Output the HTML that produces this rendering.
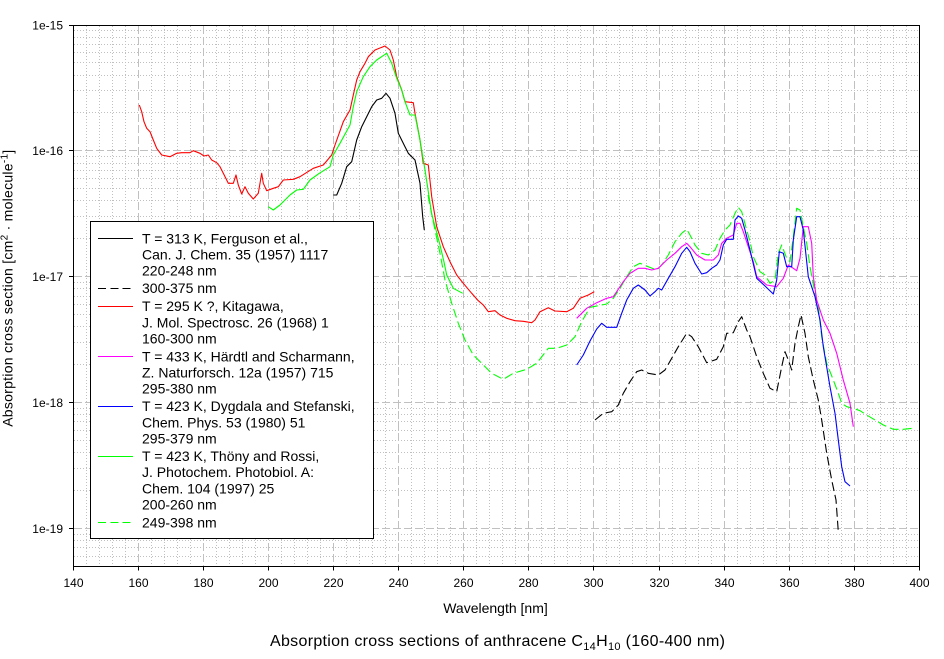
<!DOCTYPE html>
<html><head><meta charset="utf-8"><style>
html,body{margin:0;padding:0;background:#fff;}
svg{display:block;}
text{font-family:"Liberation Sans",Arial,sans-serif;fill:#000;}
</style></head><body>
<svg width="944" height="659" viewBox="0 0 944 659" xmlns="http://www.w3.org/2000/svg">
<rect x="0" y="0" width="944" height="659" fill="#fff"/>
<!-- minor grid -->
<g stroke="#c0c0c0" stroke-width="1" fill="none" shape-rendering="crispEdges" stroke-dasharray="1,2">
<path d="M86.5 26V566M99.5 26V566M112.5 26V566M125.5 26V566M151.5 26V566M164.5 26V566M177.5 26V566M190.5 26V566M216.5 26V566M229.5 26V566M242.5 26V566M255.5 26V566M281.5 26V566M294.5 26V566M307.5 26V566M320.5 26V566M346.5 26V566M359.5 26V566M372.5 26V566M385.5 26V566M411.5 26V566M424.5 26V566M437.5 26V566M450.5 26V566M476.5 26V566M489.5 26V566M502.5 26V566M515.5 26V566M541.5 26V566M554.5 26V566M567.5 26V566M580.5 26V566M606.5 26V566M619.5 26V566M632.5 26V566M646.5 26V566M672.5 26V566M685.5 26V566M698.5 26V566M711.5 26V566M737.5 26V566M750.5 26V566M763.5 26V566M776.5 26V566M802.5 26V566M815.5 26V566M828.5 26V566M841.5 26V566M867.5 26V566M880.5 26V566M893.5 26V566M906.5 26V566"/>
<path d="M74 30.5H919M74 37.5H919M74 44.5H919M74 52.5H919M74 62.5H919M74 75.5H919M74 90.5H919M74 112.5H919M74 156.5H919M74 163.5H919M74 170.5H919M74 178.5H919M74 188.5H919M74 200.5H919M74 216.5H919M74 238.5H919M74 282.5H919M74 288.5H919M74 296.5H919M74 304.5H919M74 314.5H919M74 326.5H919M74 342.5H919M74 364.5H919M74 408.5H919M74 414.5H919M74 421.5H919M74 430.5H919M74 440.5H919M74 452.5H919M74 468.5H919M74 490.5H919M74 534.5H919M74 540.5H919M74 547.5H919M74 556.5H919"/>
</g>
<!-- major grid -->
<g stroke="#c0c0c0" stroke-width="1" fill="none" shape-rendering="crispEdges" stroke-dasharray="8,3">
<path d="M138.5 26V566M203.5 26V566M268.5 26V566M333.5 26V566M398.5 26V566M463.5 26V566M528.5 26V566M593.5 26V566M659.5 26V566M724.5 26V566M789.5 26V566M854.5 26V566"/>
<path d="M74 150.5H919M74 276.5H919M74 402.5H919M74 528.5H919"/>
</g>

<!-- legend -->
<rect x="90.5" y="221.5" width="283" height="317" fill="#fff" stroke="#000" stroke-width="1" shape-rendering="crispEdges"/>
<g stroke-width="1" shape-rendering="crispEdges">
<line x1="98" y1="238.5" x2="133" y2="238.5" stroke="#000"/>
<line x1="98" y1="288.5" x2="133" y2="288.5" stroke="#000" stroke-dasharray="8,4.3"/>
<line x1="98" y1="306.5" x2="133" y2="306.5" stroke="#ff0000"/>
<line x1="98" y1="356.5" x2="133" y2="356.5" stroke="#ff00ff"/>
<line x1="98" y1="406.5" x2="133" y2="406.5" stroke="#0000ff"/>
<line x1="98" y1="456.5" x2="133" y2="456.5" stroke="#00ff00"/>
<line x1="98" y1="522.5" x2="133" y2="522.5" stroke="#00ff00" stroke-dasharray="8,4.3"/>
</g>
<g font-size="14">
<text x="142" y="243.5">T = 313 K, Ferguson et al.,</text>
<text x="142" y="259.5">Can. J. Chem. 35 (1957) 1117</text>
<text x="142" y="275.5">220-248 nm</text>
<text x="142" y="293">300-375 nm</text>
<text x="142" y="311">T = 295 K ?, Kitagawa,</text>
<text x="142" y="327.3">J. Mol. Spectrosc. 26 (1968) 1</text>
<text x="142" y="343.3">160-300 nm</text>
<text x="142" y="361.3">T = 433 K, Härdtl and Scharmann,</text>
<text x="142" y="377.3">Z. Naturforsch. 12a (1957) 715</text>
<text x="142" y="393.3">295-380 nm</text>
<text x="142" y="411">T = 423 K, Dygdala and Stefanski,</text>
<text x="142" y="427.3">Chem. Phys. 53 (1980) 51</text>
<text x="142" y="443.3">295-379 nm</text>
<text x="142" y="461">T = 423 K, Thöny and Rossi,</text>
<text x="142" y="477">J. Photochem. Photobiol. A:</text>
<text x="142" y="493.3">Chem. 104 (1997) 25</text>
<text x="142" y="509.3">200-260 nm</text>
<text x="142" y="527.3">249-398 nm</text>
</g>

<!-- data -->
<g fill="none" stroke-width="1.1" stroke-linejoin="round">
<polyline stroke="#000" points="333.3,195 336.7,195 341.7,183.3 346.7,166.7 351.7,161.7 356.7,140 361.7,126.7 366.7,116.7 371.7,106.7 376.7,100 381.7,98.3 386,93.3 390,98.3 395,113.3 398.3,133.3 405,146.7 408.3,153.3 415,160 420,183.3 422.7,216.7 424.3,230"/>
<polyline stroke="#ff0000" points="139.3,105 141.7,111.7 144,121.7 146.7,128.3 150,131.7 153.3,140 156.7,148.3 161.7,155 170,156.7 176.7,153.3 181.7,152.7 190,152.7 193.3,150.7 200,153.3 204,156 208.3,155 211.7,160 216.7,162.7 220,166.7 223.3,173.3 228.3,183.3 233.3,183.3 236,175 238.3,185 241.7,194 245,186.7 248.3,193.3 253.3,199 258.3,193.3 261.7,173.3 263.3,183.3 266.7,190.7 273.3,188.3 278.3,186.7 283.3,180 293.3,179.3 300,176.7 313.3,168.3 323.3,165 331.7,155 335,145 343.3,121.7 350,110 353.3,95 356.7,80 360,71.7 365,63.3 368.3,56.7 375,50 385,46 390,50 393.3,60 396.7,76.7 401.7,90 405,101.7 413.3,102.7 415,113.3 420,140 423.3,163.3 428.3,165 431.7,196.7 436.7,226.7 443.3,246.7 450,261.7 456.7,275 463.3,283.3 471.7,293.3 478.3,300.7 483.3,305 488.3,311.7 495,310.7 500,315 506.7,318.3 515,320.7 523.3,321.3 531.7,322.7 535,320 540,311.7 548.3,307.7 555,311 566.7,311.7 573.3,308.3 580,298.3 588.3,295 594.3,291.7"/>
<polyline stroke="#00ff00" points="268.3,206.7 273.3,210 280,205 290,195 296.7,190 303.3,189.3 310,180 319.3,173.3 330,166.7 333.3,155 340,143.3 350,125 353.3,106.7 356.7,91.7 363.3,76.7 370,66.7 376.7,60 386.7,53.3 391.7,63.3 396.7,78.3 401.7,90 405,101.7 410,115 415,115 420,140 425,170 431.7,214 436,230 440,245 444,262 446.7,275 453.3,288.3 462.7,293.3"/>
<polyline stroke="#00ff00" stroke-dasharray="9,4" points="428,195 431.7,214 435,230 440,253.3 445,280 451.7,303.3 458.3,323.3 465,340 473.3,355 481.7,363.3 491.7,373.3 503.3,379.3 513.3,373.3 526.7,369.3 536.7,363.3 548.3,348.3 556.7,348.3 566.7,345 575,336.7 581.7,321.7 590,307.3 606.7,304 613.3,298.3 620,288.3 626.7,276.7 633.3,266.7 640,263.3 648.3,266.7 656.7,270 661.7,265 668.3,255 675,241.7 681.7,233.3 686.7,229.3 690,235 695,245 701.7,253.3 708.3,255 715,250 720,238.3 725,230 730,225 735,213.3 738.3,207.3 741.7,211.7 746.7,230 750,241.7 753.3,256.7 760,271.7 765,275 770,283.3 775,280 778.3,253.3 781.7,245 786.7,258.3 790,261.7 793.3,236.7 796.7,208.3 800,210 803.3,226.7 806.7,243.3 810,266.7 815,293.3 818.3,306.7 821.7,336.7 826.7,363.3 833.3,380 838.3,393.3 841.7,403.3 846.7,406.7 853.3,408.3 860,410.7 866.7,415 875,420 883.3,425 893.3,429.3 903.3,429.3 913.3,428.3"/>
<polyline stroke="#ff00ff" points="576.7,318.3 586.7,308.3 596.7,302.7 606.7,298.3 613.3,296.7 616.7,291.7 623.3,281.7 630,273.3 638.3,268.3 645,268.3 651.7,270 658.3,268.3 666.7,260 675,253.3 681.7,246.7 686.7,243.3 690,246.7 696.7,255 705,260 713.3,260 718.3,255 721.7,243.3 726.7,238.3 733.3,235 736.7,223.3 740,223.3 743.3,231.7 748.3,246.7 753.3,261.7 756.7,276.7 766.7,285 776.7,286.7 783.3,278.3 788.3,265 793.3,268.3 796.7,270.7 800,258.3 803.3,226.7 808.3,226.7 811.7,243.3 813.3,276.7 816.7,300 823.3,320 830,333.3 836.7,353.3 843.3,380 850,403.3 853.3,426.7"/>
<polyline stroke="#0000ff" points="576.7,365 583.3,355 590,341 596.7,329 601.7,323.3 606.7,327.3 616.7,327.3 621.7,313.3 626.7,300 633.3,288.3 638.3,285 645,290 650,296 655,291.7 658.3,288.3 661.7,290 668.3,278.3 675,266.7 681.7,253.3 686.7,247.3 690,251.7 695,263.3 701.7,274 706.7,272.7 711.7,268.3 716.7,265 720,260 723.3,245 726.7,239.3 733.3,239.3 735,220 738.3,216 741.7,218.3 745,230 750,250 756.7,278.3 765,286 773.3,294 776.7,280 779.3,251.7 783.3,253.3 786.7,266.7 791.7,266.7 793.3,240 796.7,216.7 800,216.7 803.3,230 808.3,276.7 815,296.7 820,320 823.3,346.7 830,386.7 835,413.3 838.3,440 841.7,466.7 845,481.7 850,486"/>
<polyline stroke="#000" stroke-dasharray="9,4" points="595,420 603.3,413.3 611.7,411.7 618.3,405 623.3,393.3 630,381.7 636.7,371.7 641.7,370 648.3,373.3 658.3,375 665,370 671.7,358.3 678.3,346.7 686.7,333.3 691.7,336.7 698.3,346.7 706.7,362.7 716.7,359.3 723.3,346.7 726.7,333.3 733.3,332.7 738.3,321.7 741.7,316.7 746.7,330 750,336.7 756.7,356.7 763.3,373.3 770,388.3 776.7,391.7 781.7,366.7 785,351.7 788.3,360 791.7,370 795,343.3 798.3,326.7 801,315 805,333.3 808.3,356.7 813.3,380 818.3,400 821.7,420 826.7,453.3 831.7,480 836,500 838.3,531.7"/>
</g>

<!-- axes -->
<g stroke="#000" stroke-width="1" fill="none" shape-rendering="crispEdges">
<rect x="73.5" y="25.5" width="846" height="541"/>
<path d="M73.5 566.5V570.5M138.5 566.5V570.5M203.5 566.5V570.5M268.5 566.5V570.5M333.5 566.5V570.5M398.5 566.5V570.5M463.5 566.5V570.5M528.5 566.5V570.5M593.5 566.5V570.5M659.5 566.5V570.5M724.5 566.5V570.5M789.5 566.5V570.5M854.5 566.5V570.5M919.5 566.5V570.5"/>
<path d="M69 25.5H73.5M69 150.5H73.5M69 276.5H73.5M69 402.5H73.5M69 528.5H73.5"/>
</g>
<g font-size="12" text-anchor="end">
<text x="63" y="29.5">1e-15</text>
<text x="63" y="155">1e-16</text>
<text x="63" y="281">1e-17</text>
<text x="63" y="407">1e-18</text>
<text x="63" y="532.8">1e-19</text>
</g>
<g font-size="12" text-anchor="middle">
<text x="73.5" y="587">140</text>
<text x="138.5" y="587">160</text>
<text x="203.5" y="587">180</text>
<text x="268.5" y="587">200</text>
<text x="333.5" y="587">220</text>
<text x="398.5" y="587">240</text>
<text x="463.5" y="587">260</text>
<text x="528.5" y="587">280</text>
<text x="593.5" y="587">300</text>
<text x="659.5" y="587">320</text>
<text x="724.5" y="587">340</text>
<text x="789.5" y="587">360</text>
<text x="854.5" y="587">380</text>
<text x="919.5" y="587">400</text>
</g>
<text x="495.5" y="613" font-size="14" text-anchor="middle">Wavelength [nm]</text>
<text x="150" y="12.5" font-size="14" transform="rotate(-90 150 12.5) translate(-288 -138)" textLength="277" lengthAdjust="spacing"></text>
<text transform="translate(12.5 288.3) rotate(-90)" x="-138.5" y="0" font-size="14" textLength="277" lengthAdjust="spacing">Absorption cross section [cm<tspan font-size="10" dy="-5">2</tspan><tspan dy="5"> · molecule</tspan><tspan font-size="10" dy="-5">-1</tspan><tspan dy="5">]</tspan></text>
<text x="270" y="646" font-size="16" textLength="455" lengthAdjust="spacing">Absorption cross sections of anthracene C<tspan font-size="11" dy="4">14</tspan><tspan dy="-4">H</tspan><tspan font-size="11" dy="4">10</tspan><tspan dy="-4"> (160-400 nm)</tspan></text>
</svg>
</body></html>
